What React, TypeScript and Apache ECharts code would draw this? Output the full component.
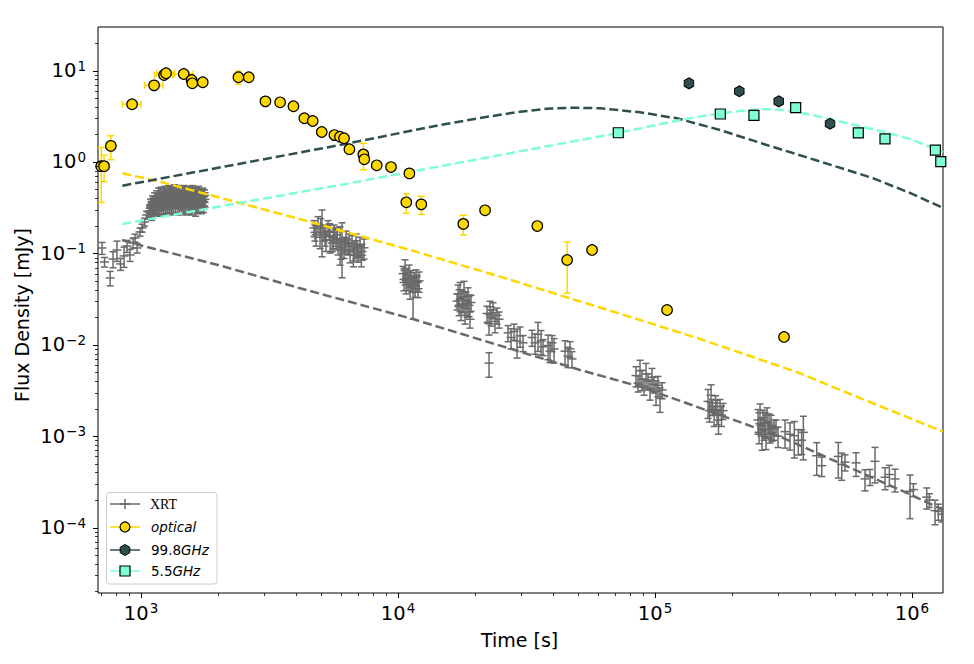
import React, { useEffect, useRef } from "react";
import * as echarts from "echarts";

// ---------- axis ranges & ticks ----------
const X_MIN = 680;
const X_MAX = 1.32e6;
const Y_MIN = 1.92e-5;
const Y_MAX = 30;
const xMajorTicks = [1e3, 1e4, 1e5, 1e6];
const yMajorTicks = [1e-4, 1e-3, 1e-2, 1e-1, 1, 10];
const minorMultipliers = [2, 3, 4, 5, 6, 7, 8, 9];

// ---------- XRT: [time s, flux mJy, relative 1-sigma error] ----------
const xrtEarly = [
  [705, 0.1146, 0.15], [721, 0.0805, 0.12], [758, 0.0538, 0.18], [778, 0.0868, 0.2],
  [806, 0.1089, 0.25], [832, 0.0766, 0.15], [859, 0.0937, 0.25], [882, 0.1205, 0.15],
  [906, 0.096, 0.15], [931, 0.13, 0.12], [948, 0.1474, 0.1], [965, 0.1146, 0.12],
  [991, 0.1714, 0.1], [1009, 0.1896, 0.1], [1032, 0.2206, 0.1], [1051, 0.263, 0.1],
  [1074, 0.2837, 0.1], [1094, 0.3218, 0.1],
];
const xrtPlateau = [
  [1084, 0.29, 0.15], [1089, 0.34, 0.15], [1094, 0.32, 0.15], [1099, 0.27, 0.15],
  [1104, 0.31, 0.15], [1109, 0.37, 0.15], [1114, 0.35, 0.15], [1119, 0.3, 0.15],
  [1124, 0.33, 0.15], [1129, 0.4, 0.15], [1134, 0.37, 0.15], [1139, 0.31, 0.15],
  [1144, 0.32, 0.15], [1150, 0.42, 0.15], [1155, 0.36, 0.15], [1160, 0.3, 0.15],
  [1165, 0.39, 0.15], [1170, 0.45, 0.15], [1176, 0.34, 0.15], [1181, 0.3, 0.15],
  [1186, 0.38, 0.15], [1192, 0.46, 0.15], [1197, 0.41, 0.15], [1202, 0.31, 0.15],
  [1207, 0.35, 0.15], [1213, 0.44, 0.15], [1218, 0.4, 0.15], [1224, 0.32, 0.15],
  [1229, 0.37, 0.15], [1235, 0.47, 0.15], [1240, 0.43, 0.15], [1246, 0.31, 0.15],
  [1251, 0.36, 0.15], [1257, 0.45, 0.15], [1263, 0.41, 0.15], [1268, 0.33, 0.15],
  [1274, 0.38, 0.15], [1280, 0.48, 0.15], [1285, 0.44, 0.15], [1291, 0.32, 0.15],
  [1297, 0.35, 0.15], [1303, 0.46, 0.15], [1309, 0.4, 0.15], [1315, 0.31, 0.15],
  [1320, 0.42, 0.15], [1326, 0.47, 0.15], [1332, 0.37, 0.15], [1338, 0.33, 0.15],
  [1344, 0.45, 0.15], [1350, 0.49, 0.15], [1356, 0.39, 0.15], [1362, 0.32, 0.15],
  [1368, 0.41, 0.18], [1374, 0.46, 0.15], [1381, 0.36, 0.15], [1387, 0.31, 0.15],
  [1393, 0.43, 0.15], [1399, 0.48, 0.15], [1405, 0.38, 0.15], [1412, 0.33, 0.15],
  [1418, 0.46, 0.15], [1424, 0.42, 0.15], [1431, 0.4, 0.15], [1437, 0.31, 0.15],
  [1443, 0.35, 0.15], [1450, 0.47, 0.15], [1457, 0.42, 0.15], [1463, 0.32, 0.15],
  [1470, 0.38, 0.18], [1477, 0.48, 0.15], [1484, 0.44, 0.15], [1490, 0.33, 0.15],
  [1497, 0.37, 0.15], [1503, 0.45, 0.15], [1510, 0.41, 0.15], [1517, 0.31, 0.15],
  [1524, 0.34, 0.15], [1530, 0.47, 0.15], [1537, 0.43, 0.15], [1544, 0.32, 0.15],
  [1551, 0.39, 0.15], [1558, 0.46, 0.15], [1565, 0.36, 0.18], [1572, 0.31, 0.15],
  [1579, 0.42, 0.15], [1586, 0.48, 0.15], [1594, 0.38, 0.15], [1601, 0.33, 0.15],
  [1608, 0.45, 0.15], [1615, 0.4, 0.15], [1622, 0.35, 0.18], [1630, 0.3, 0.15],
  [1637, 0.4, 0.15], [1644, 0.46, 0.15], [1652, 0.37, 0.15], [1659, 0.32, 0.15],
  [1667, 0.43, 0.15], [1674, 0.47, 0.15], [1682, 0.39, 0.15], [1690, 0.33, 0.15],
  [1697, 0.34, 0.18], [1705, 0.44, 0.15], [1712, 0.41, 0.15], [1720, 0.32, 0.15],
  [1727, 0.37, 0.15], [1735, 0.45, 0.15], [1743, 0.42, 0.2], [1751, 0.33, 0.15],
  [1759, 0.36, 0.15], [1767, 0.43, 0.15], [1775, 0.39, 0.18],
];
const xrtOrbit2 = [
  [4711, 0.19, 0.2], [4750, 0.17, 0.2], [4797, 0.16, 0.25], [4884, 0.21, 0.2],
  [4972, 0.15, 0.25], [5000, 0.2, 0.2], [5062, 0.195, 0.53], [5154, 0.17, 0.2],
  [5200, 0.16, 0.25], [5247, 0.14, 0.25], [5341, 0.19, 0.2], [5400, 0.175, 0.2],
  [5438, 0.155, 0.35], [5537, 0.13, 0.2], [5600, 0.15, 0.25], [5636, 0.17, 0.2],
  [5739, 0.145, 0.25], [5800, 0.16, 0.2], [5841, 0.12, 0.2], [5947, 0.135, 0.45],
  [6000, 0.115, 0.25], [6054, 0.135, 0.6], [6164, 0.11, 0.2], [6200, 0.125, 0.2],
  [6275, 0.14, 0.25], [6388, 0.12, 0.2], [6450, 0.13, 0.25], [6505, 0.105, 0.25],
  [6622, 0.13, 0.2], [6700, 0.095, 0.25], [6742, 0.11, 0.25], [6864, 0.125, 0.3],
  [6950, 0.115, 0.2], [6988, 0.1, 0.2], [7113, 0.12, 0.25], [7200, 0.095, 0.25],
  [7241, 0.105, 0.2], [7373, 0.115, 0.25],
];
const xrtOrbit3 = [
  [10460, 0.06, 0.2], [10550, 0.052, 0.25], [10650, 0.068, 0.25], [10750, 0.045, 0.2],
  [10840, 0.057, 0.2], [10940, 0.049, 0.2], [11040, 0.062, 0.2], [11140, 0.042, 0.25],
  [11230, 0.054, 0.2], [11340, 0.047, 0.2], [11440, 0.038, 0.5], [11550, 0.051, 0.2],
  [11650, 0.044, 0.25], [11760, 0.055, 0.2], [11860, 0.048, 0.2], [11960, 0.041, 0.2],
  [12070, 0.05, 0.25],
];
const xrtOrbit4 = [
  [16970, 0.03, 0.2], [17130, 0.036, 0.25], [17280, 0.026, 0.2], [17440, 0.04, 0.2],
  [17590, 0.023, 0.2], [17750, 0.033, 0.2], [17900, 0.028, 0.2], [18060, 0.038, 0.3],
  [18230, 0.021, 0.2], [18390, 0.031, 0.2], [18560, 0.025, 0.2], [18720, 0.035, 0.2],
  [18890, 0.027, 0.25], [19050, 0.019, 0.2], [19230, 0.029, 0.2],
];
const xrtOrbit5 = [
  [22200, 0.022, 0.2], [22600, 0.017, 0.25], [22600, 0.0063, 0.3], [22800, 0.026, 0.15],
  [23010, 0.02, 0.2], [23420, 0.024, 0.2], [23850, 0.018, 0.25], [24280, 0.021, 0.2],
  [24720, 0.019, 0.2], [26800, 0.0135, 0.2], [27530, 0.012, 0.25], [28280, 0.014, 0.2],
  [29040, 0.011, 0.35], [29840, 0.0125, 0.25], [30650, 0.0105, 0.2], [33210, 0.012, 0.2],
  [34140, 0.0105, 0.25], [35050, 0.013, 0.35], [36010, 0.011, 0.3], [36660, 0.0095, 0.2],
  [38350, 0.0098, 0.3], [39040, 0.0085, 0.25], [39740, 0.0105, 0.2], [40460, 0.009, 0.3],
  [44650, 0.0085, 0.3], [45870, 0.0075, 0.25], [46700, 0.009, 0.2], [47530, 0.007, 0.2],
];
const xrtOrbit6 = [
  [84340, 0.0046, 0.25], [85880, 0.0038, 0.2], [87410, 0.0052, 0.3], [89010, 0.0042, 0.25],
  [90640, 0.0035, 0.2], [92270, 0.0048, 0.3], [93930, 0.004, 0.2], [95620, 0.0033, 0.25],
  [97340, 0.0044, 0.25], [99110, 0.0037, 0.2], [100900, 0.0031, 0.3], [102700, 0.0036, 0.25],
  [104600, 0.0026, 0.3], [106500, 0.0032, 0.2],
];
const xrtOrbit7 = [
  [160800, 0.0024, 0.35], [163000, 0.0019, 0.25], [165200, 0.0028, 0.3], [167400, 0.0021, 0.2],
  [169700, 0.0017, 0.25], [172000, 0.0023, 0.2], [174300, 0.0019, 0.3], [176600, 0.0015, 0.3],
  [179000, 0.0021, 0.2], [181400, 0.0017, 0.25], [183900, 0.0019, 0.2],
];
const xrtOrbit8 = [
  [251700, 0.0015, 0.3], [254000, 0.0011, 0.25], [256200, 0.0018, 0.25], [258500, 0.0013, 0.2],
  [260900, 0.001, 0.3], [263200, 0.0016, 0.2], [265600, 0.0012, 0.25], [268000, 0.0014, 0.3],
  [270400, 0.00095, 0.25], [272800, 0.0017, 0.2], [275300, 0.0012, 0.2], [277800, 0.0014, 0.25],
  [280300, 0.00105, 0.2], [282800, 0.0013, 0.3], [285300, 0.0011, 0.2], [290400, 0.0012, 0.25],
  [295700, 0.00125, 0.2], [301100, 0.001, 0.25],
];
const xrtLate = [
  [320500, 0.00112, 0.34], [335200, 0.00105, 0.33], [348300, 0.00101, 0.43], [361000, 0.0009, 0.31],
  [372000, 0.0009, 0.3], [377600, 0.0011, 0.5], [425800, 0.00061, 0.39], [445400, 0.000475, 0.24],
  [516700, 0.0006, 0.42], [532700, 0.00049, 0.33], [548600, 0.00052, 0.2], [605500, 0.00051, 0.29],
  [656300, 0.00034, 0.26], [686400, 0.00036, 0.2], [717800, 0.00053, 0.42], [785300, 0.000355, 0.27],
  [816300, 0.00038, 0.26], [858900, 0.00034, 0.28], [982200, 0.00025, 0.5], [1012000, 0.00026, 0.16],
  [1141000, 0.000215, 0.26], [1168000, 0.0002, 0.17], [1229000, 0.000153, 0.3], [1266000, 0.00015, 0.2],
  [1305000, 0.00014, 0.18],
];

// ---------- optical ----------
const optTime = [700, 718, 763, 923, 1124, 1229, 1251, 1466, 1574, 1583, 1738, 2393, 2625, 3048, 3477, 3917, 4319, 4657, 5048, 5655, 5944, 6164, 6467, 7330, 7393, 8262, 9391, 11070, 10770, 12320, 17950, 21810, 34830, 45500, 56900, 111400, 317700];
const optFlux = [0.9, 0.9, 1.5, 4.28, 6.9, 8.95, 9.35, 9.18, 7.89, 7.26, 7.45, 8.45, 8.45, 4.61, 4.5, 4.07, 3.01, 2.81, 2.13, 1.97, 1.89, 1.82, 1.38, 1.21, 1.07, 0.92, 0.88, 0.75, 0.362, 0.344, 0.21, 0.296, 0.199, 0.0847, 0.109, 0.024, 0.01217];
const optFluxErr = [0.54, 0.29, 0.44, 0, 0, 0, 0, 0, 0.3, 0.3, 0.6, 1.4, 0, 0, 0, 0, 0, 0, 0, 0, 0, 0, 0.1, 0.39, 0, 0, 0, 0.05, 0.087, 0.077, 0.051, 0, 0, 0.048, 0, 0, 0];
const optTimeErr = [0, 0, 0, 77, 93, 100, 100, 127, 0, 0, 0, 40, 0, 0, 0, 0, 0, 0, 0, 0, 0, 0, 0, 0, 0, 0, 0, 0, 0, 0, 0, 0, 0, 0, 0, 0, 0];

// ---------- radio ----------
const r100Time = [135500, 212800, 302900, 479700];
const r100Flux = [7.26, 5.94, 4.61, 2.62];
const r55Time = [71960, 179500, 242600, 352600, 618000, 785000, 1233000, 1294000];
const r55Flux = [2.09, 3.35, 3.24, 3.93, 2.08, 1.79, 1.35, 1.01];

// ---------- model curves ----------
const modelXrtTime = [844, 991, 1993, 4156, 11140, 51070, 87410, 220000, 306400, 898300, 1320000];
const modelXrtFlux = [0.1401, 0.1228, 0.0747, 0.04151, 0.0195, 0.0053, 0.00348, 0.001384, 0.000988, 0.000258, 0.0001558];
const modelOptTime = [846, 1185, 4270, 11140, 24940, 87410, 153800, 366700, 524700, 1320000];
const modelOptFlux = [0.752, 0.609, 0.232, 0.1089, 0.0556, 0.01868, 0.01128, 0.00488, 0.0032, 0.00112];
const model100Time = [846, 5947, 14570, 20850, 29830, 39040, 47960, 61090, 87410, 121500, 179000, 272000, 438500, 707100, 982200, 1320000];
const model100Flux = [0.55, 1.535, 2.54, 3.03, 3.551, 3.848, 3.928, 3.869, 3.498, 3.007, 2.239, 1.535, 1.013, 0.663, 0.458, 0.314];
const model55Time = [846, 5947, 71780, 121500, 149700, 201700, 256200, 315600, 401000, 494000, 773300, 982200, 1210000, 1320000];
const model55Flux = [0.2098, 0.56, 2.076, 2.83, 3.15, 3.55, 3.8, 3.7, 3.31, 2.88, 2.145, 1.79, 1.412, 1.286];

// ---------- styles ----------
const C_XRT = "#696969";
const C_OPT = "#FFD700";
const C_100 = "#2F4F4F";
const C_55 = "#7FFFD4";
const FONT = "'DejaVu Sans', sans-serif";
const HEX = "path://M0,-10L8.66,-5L8.66,5L0,10L-8.66,5L-8.66,-5Z";

const zip = (a: number[], b: number[]) => a.map((v, i) => [v, b[i]]);

const supLabel = (v: number) => {
  const l = Math.log10(v);
  const e = Math.round(l);
  if (Math.abs(l - e) > 1e-6) return "";
  return `{b|10}{s|${e < 0 ? "\u2212" + -e : e}}`;
};
const labelRich = {
  b: { fontSize: 19.5, lineHeight: 24, fontFamily: FONT, color: "#000" },
  s: { fontSize: 13.5, lineHeight: 13, fontFamily: FONT, color: "#000", padding: [0, 0, 10, 1] },
};

function buildTicks(majors: number[], lo: number, hi: number) {
  const out: number[][] = [];
  majors.forEach((m) => out.push([m, 1]));
  const decades = [1e-6, 1e-5, 1e-4, 1e-3, 1e-2, 1e-1, 1, 10, 100, 1e3, 1e4, 1e5, 1e6];
  decades.forEach((d) =>
    minorMultipliers.forEach((k) => {
      const v = d * k;
      if (v > lo && v < hi) out.push([v, 0]);
    })
  );
  return out.filter((t) => t[0] >= lo && t[0] <= hi);
}

export default function App() {
  const ref = useRef<HTMLDivElement>(null);
  useEffect(() => {
    const chart = echarts.init(ref.current!, null, { renderer: "svg" });
    const xrtAll = [
      ...xrtEarly, ...xrtPlateau, ...xrtOrbit2, ...xrtOrbit3, ...xrtOrbit4,
      ...xrtOrbit5, ...xrtOrbit6, ...xrtOrbit7, ...xrtOrbit8, ...xrtLate,
    ].map(([t, f, r]) => [t, f, f * (1 - r), f * (1 + r)]);

    const xTicks = buildTicks(xMajorTicks, X_MIN, X_MAX).map(([v, m]) => [v, Y_MIN, m]);
    const yTicks = buildTicks(yMajorTicks, Y_MIN, Y_MAX).map(([v, m]) => [X_MIN, v, m]);

    const lineSeries = (name: string, t: number[], f: number[], color: string) => ({
      type: "line",
      name,
      data: zip(t, f),
      showSymbol: false,
      smooth: false,
      lineStyle: { color, width: 2.5, type: [9, 4], cap: "butt", join: "round" },
      silent: true,
      z: 3,
    });

    const option: any = {
      animation: false,
      backgroundColor: "#fff",
      grid: { left: 98, top: 27, width: 845, height: 566, show: true, borderColor: "#000", borderWidth: 1, backgroundColor: "transparent" },
      xAxis: {
        type: "log", logBase: 10, min: X_MIN, max: X_MAX,
        axisLine: { show: false }, axisTick: { show: false }, splitLine: { show: false }, minorTick: { show: false },
        axisLabel: { margin: 8, interval: 0, formatter: supLabel, rich: labelRich, showMinLabel: true, showMaxLabel: true },
      },
      yAxis: {
        type: "log", logBase: 10, min: Y_MIN, max: Y_MAX,
        axisLine: { show: false }, axisTick: { show: false }, splitLine: { show: false }, minorTick: { show: false },
        axisLabel: { margin: 12, interval: 0, formatter: supLabel, rich: labelRich, showMinLabel: true, showMaxLabel: true },
      },
      series: [
        {
          type: "custom", name: "XRT", data: xrtAll, clip: true, silent: true, z: 2,
          encode: { x: 0, y: 1 },
          renderItem: (_p: any, api: any) => {
            const c = api.coord([api.value(0), api.value(1)]);
            const lo = api.coord([api.value(0), api.value(2)]);
            const hi = api.coord([api.value(0), api.value(3)]);
            const st = { stroke: C_XRT, lineWidth: 1.5 };
            return {
              type: "group",
              children: [
                { type: "line", shape: { x1: c[0], y1: hi[1], x2: c[0], y2: lo[1] }, style: st },
                { type: "line", shape: { x1: c[0] - 3.5, y1: hi[1], x2: c[0] + 3.5, y2: hi[1] }, style: st },
                { type: "line", shape: { x1: c[0] - 3.5, y1: lo[1], x2: c[0] + 3.5, y2: lo[1] }, style: st },
                { type: "line", shape: { x1: c[0] - 4.5, y1: c[1], x2: c[0] + 4.5, y2: c[1] }, style: st },
              ],
            };
          },
        },
        lineSeries("modelXRT", modelXrtTime, modelXrtFlux, C_XRT),
        lineSeries("modelOptical", modelOptTime, modelOptFlux, C_OPT),
        lineSeries("model99.8", model100Time, model100Flux, C_100),
        lineSeries("model5.5", model55Time, model55Flux, C_55),
        {
          type: "custom", name: "optErr", clip: true, silent: true, z: 4,
          data: optTime.map((t, i) => [t, optFlux[i], optFluxErr[i], optTimeErr[i]]),
          encode: { x: 0, y: 1 },
          renderItem: (_p: any, api: any) => {
            const t = api.value(0), f = api.value(1), fe = api.value(2), te = api.value(3);
            const st = { stroke: C_OPT, lineWidth: 1.5 };
            const ch: any[] = [];
            if (fe > 0) {
              const a = api.coord([t, f + fe]);
              const b = api.coord([t, Math.max(f - fe, 1e-9)]);
              ch.push({ type: "line", shape: { x1: a[0], y1: a[1], x2: b[0], y2: b[1] }, style: st });
              ch.push({ type: "line", shape: { x1: a[0] - 3.5, y1: a[1], x2: a[0] + 3.5, y2: a[1] }, style: st });
              ch.push({ type: "line", shape: { x1: b[0] - 3.5, y1: b[1], x2: b[0] + 3.5, y2: b[1] }, style: st });
            }
            if (te > 0) {
              const a = api.coord([t - te, f]);
              const b = api.coord([t + te, f]);
              ch.push({ type: "line", shape: { x1: a[0], y1: a[1], x2: b[0], y2: b[1] }, style: st });
              ch.push({ type: "line", shape: { x1: a[0], y1: a[1] - 3.5, x2: a[0], y2: a[1] + 3.5 }, style: st });
              ch.push({ type: "line", shape: { x1: b[0], y1: b[1] - 3.5, x2: b[0], y2: b[1] + 3.5 }, style: st });
            }
            return { type: "group", children: ch };
          },
        },
        {
          type: "scatter", name: "optical", data: zip(optTime, optFlux), symbol: "circle", symbolSize: 10.5,
          itemStyle: { color: C_OPT, borderColor: "#000", borderWidth: 1.2, opacity: 1 }, z: 5, silent: true,
        },
        {
          type: "scatter", name: "99.8GHz", data: zip(r100Time, r100Flux), symbol: HEX, symbolSize: [9.5, 11],
          itemStyle: { color: C_100, borderColor: "#000", borderWidth: 1, opacity: 1 }, z: 5, silent: true,
        },
        {
          type: "scatter", name: "5.5GHz", data: zip(r55Time, r55Flux), symbol: "rect", symbolSize: 10,
          itemStyle: { color: C_55, borderColor: "#000", borderWidth: 1.2, opacity: 1 }, z: 5, silent: true,
        },
        {
          type: "custom", name: "xticks", data: xTicks, clip: false, silent: true, z: 6,
          encode: { x: 0, y: 1 },
          renderItem: (_p: any, api: any) => {
            const c = api.coord([api.value(0), api.value(1)]);
            const major = api.value(2) === 1;
            const x = Math.round(c[0]) + 0.5;
            return { type: "line", shape: { x1: x, y1: c[1], x2: x, y2: c[1] + (major ? 5 : 3) }, style: { stroke: "#000", lineWidth: major ? 1 : 0.8 } };
          },
        },
        {
          type: "custom", name: "yticks", data: yTicks, clip: false, silent: true, z: 6,
          encode: { x: 0, y: 1 },
          renderItem: (_p: any, api: any) => {
            const c = api.coord([api.value(0), api.value(1)]);
            const major = api.value(2) === 1;
            const y = Math.round(c[1]) + 0.5;
            return { type: "line", shape: { x1: c[0], y1: y, x2: c[0] - (major ? 5 : 3), y2: y }, style: { stroke: "#000", lineWidth: major ? 1 : 0.8 } };
          },
        },
      ],
      graphic: [
        { type: "text", left: 481, top: 630, style: { text: "Time [s]", font: `19px ${FONT}`, fill: "#000" } },
        { type: "text", x: 22, y: 315, rotation: Math.PI / 2, style: { text: "Flux Density [mJy]", font: `19px ${FONT}`, fill: "#000", align: "center", verticalAlign: "middle" } },
        {
          type: "group", left: 106, top: 492, z: 100,
          children: [
            { type: "rect", shape: { x: 0.5, y: 0.5, width: 110.5, height: 91.5, r: 3 }, style: { fill: "rgba(255,255,255,0.8)", stroke: "#cccccc", lineWidth: 1 } },
            // XRT
            { type: "line", shape: { x1: 4, y1: 12, x2: 34, y2: 12 }, style: { stroke: C_XRT, lineWidth: 1.5 } },
            { type: "line", shape: { x1: 19, y1: 7, x2: 19, y2: 17 }, style: { stroke: C_XRT, lineWidth: 1.5 } },
            { type: "line", shape: { x1: 14, y1: 12, x2: 24, y2: 12 }, style: { stroke: C_XRT, lineWidth: 1.5 } },
            { type: "text", x: 44, y: 12, style: { text: "XRT", font: `14px 'Liberation Serif', serif`, fill: "#000", verticalAlign: "middle" } },
            // optical
            { type: "line", shape: { x1: 4, y1: 35, x2: 34, y2: 35 }, style: { stroke: C_OPT, lineWidth: 1.5 } },
            { type: "circle", shape: { cx: 19, cy: 35, r: 5 }, style: { fill: C_OPT, stroke: "#000", lineWidth: 1.2 } },
            { type: "text", x: 45, y: 35, style: { text: "optical", font: `italic 13.5px ${FONT}`, fill: "#000", verticalAlign: "middle" } },
            // 99.8 GHz
            { type: "line", shape: { x1: 4, y1: 58, x2: 34, y2: 58 }, style: { stroke: C_100, lineWidth: 1.5 } },
            { type: "polygon", shape: { points: [[19, 52.5], [23.8, 55.25], [23.8, 60.75], [19, 63.5], [14.2, 60.75], [14.2, 55.25]] }, style: { fill: C_100, stroke: "#000", lineWidth: 1 } },
            {
              type: "text", x: 45, y: 58,
              style: {
                text: "{a|99.8}{b|GHz}", verticalAlign: "middle", fill: "#000",
                rich: { a: { font: `13.5px ${FONT}`, fill: "#000" }, b: { font: `italic 13.5px ${FONT}`, fill: "#000" } },
              },
            },
            // 5.5 GHz
            { type: "line", shape: { x1: 4, y1: 79, x2: 34, y2: 79 }, style: { stroke: C_55, lineWidth: 1.5 } },
            { type: "rect", shape: { x: 14, y: 74, width: 10, height: 10 }, style: { fill: C_55, stroke: "#000", lineWidth: 1.2 } },
            {
              type: "text", x: 45, y: 79,
              style: {
                text: "{a|5.5}{b|GHz}", verticalAlign: "middle", fill: "#000",
                rich: { a: { font: `13.5px ${FONT}`, fill: "#000" }, b: { font: `italic 13.5px ${FONT}`, fill: "#000" } },
              },
            },
          ],
        },
      ],
    };
    chart.setOption(option);
    return () => chart.dispose();
  }, []);
  return <div ref={ref} style={{ position: "absolute", left: 0, top: 0, width: 974, height: 664, background: "#fff" }} />;
}
